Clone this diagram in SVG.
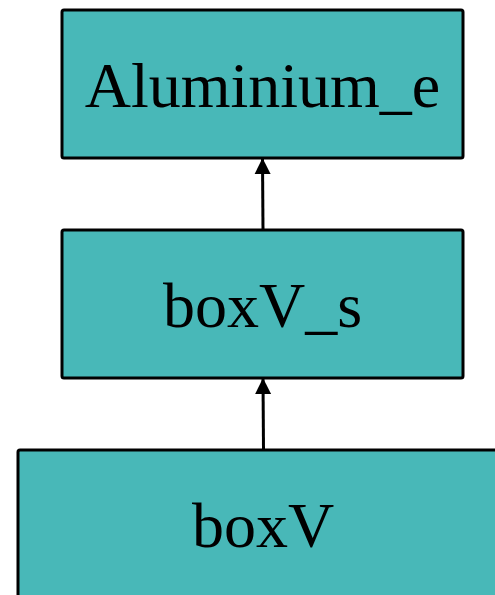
<svg xmlns="http://www.w3.org/2000/svg" width="495" height="595" viewBox="0 0 495 595">
<style>
.node rect{fill:#48b8b8;stroke:#000;stroke-width:3;}
.node text{font-family:"Liberation Serif","Times New Roman",serif;font-size:64px;fill:#000;text-anchor:middle;}
.edge{stroke:#000;stroke-width:3;fill:none;marker-end:url(#arr);}
</style>
<defs>
<marker id="arr" markerUnits="userSpaceOnUse" markerWidth="16" markerHeight="18" refX="15" refY="8" orient="auto" viewBox="0 0 16 16">
<path d="M0,0 L16,8 L0,16 Z" fill="#000"/>
</marker>
</defs>
<rect width="495" height="595" fill="#fff"/>
<g id="connectors">
<line class="edge" x1="263" y1="230" x2="262.5" y2="159"/>
<line class="edge" x1="263.5" y1="450" x2="263" y2="379"/>
</g>
<g id="Aluminium_e" class="node">
<rect x="62" y="10" width="401" height="148" rx="2"/>
<text x="262.5" y="107">Aluminium_e</text>
</g>
<g id="boxV_s" class="node">
<rect x="62" y="230" width="401" height="148" rx="2"/>
<text x="262.5" y="327">boxV_s</text>
</g>
<g id="boxV" class="node">
<rect x="18" y="450" width="490" height="148" rx="2"/>
<text x="263" y="547">boxV</text>
</g>
</svg>
